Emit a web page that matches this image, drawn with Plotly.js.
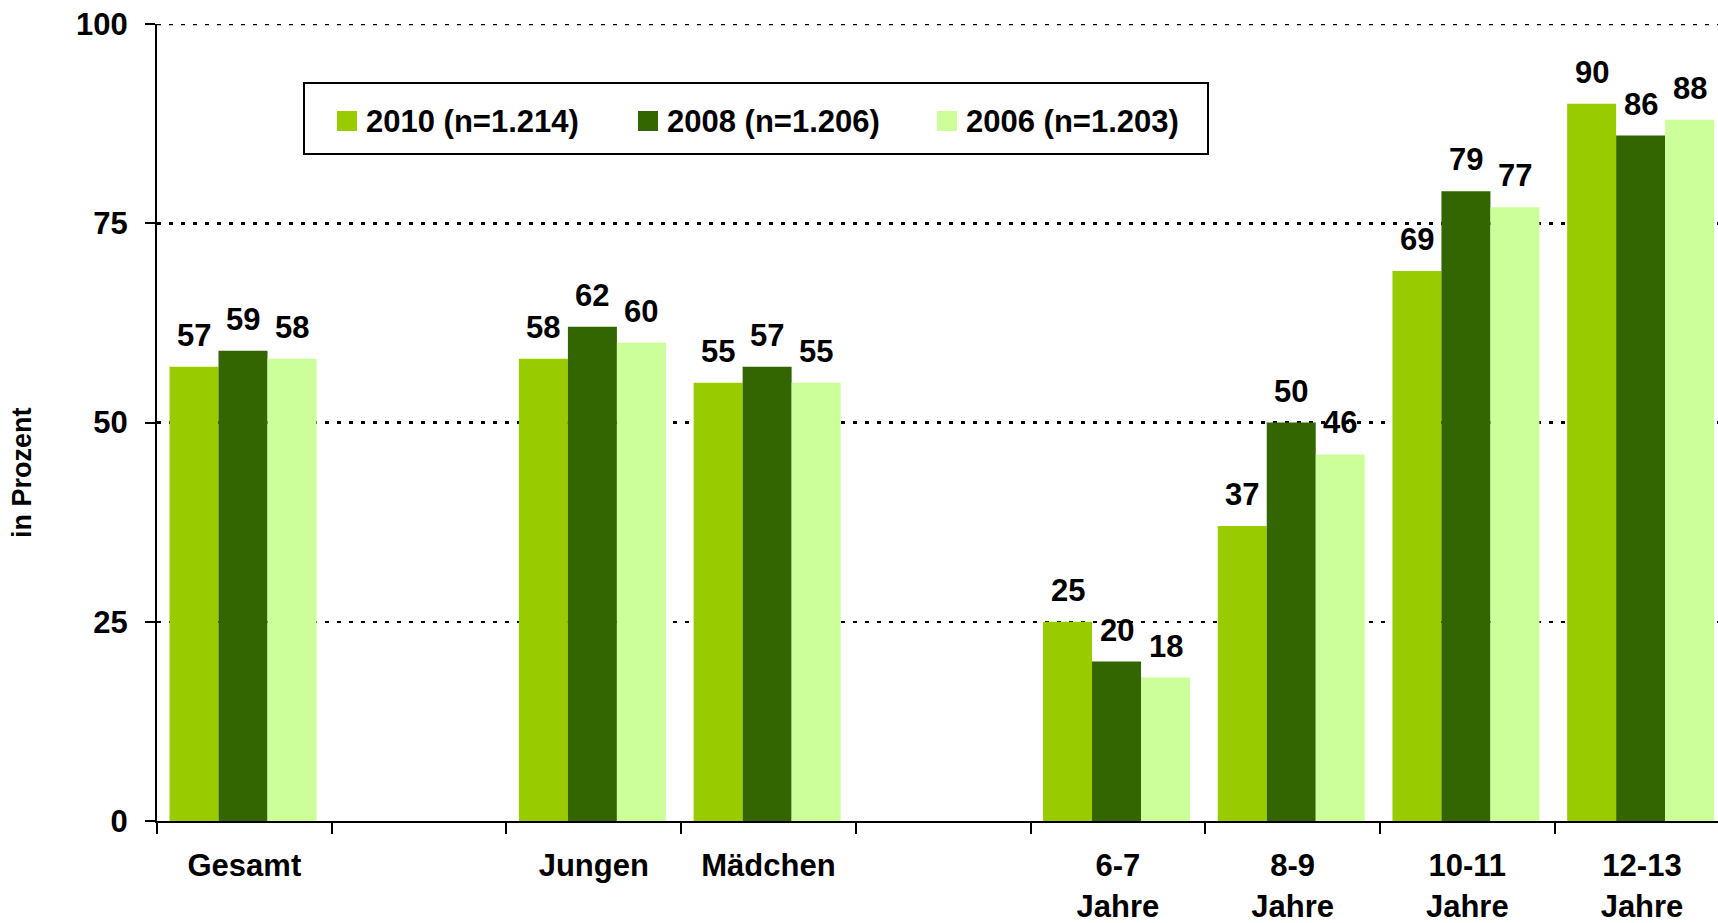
<!DOCTYPE html>
<html><head><meta charset="utf-8">
<script src="https://cdn.plot.ly/plotly-3.0.1.min.js"></script>
<style>html,body{margin:0;padding:0;background:#fff}#chart{width:1718px;height:923px}</style>
</head><body><div id="chart"></div>
<script>
// ---- data ----
const axisCategories = ['Gesamt', '\u200b', 'Jungen', 'Mädchen', '\u200b\u200b', '6-7<br>Jahre', '8-9<br>Jahre', '10-11<br>Jahre', '12-13<br>Jahre'];
const dataCategories = ['Gesamt', 'Jungen', 'Mädchen', '6-7<br>Jahre', '8-9<br>Jahre', '10-11<br>Jahre', '12-13<br>Jahre'];
const seriesNames = ['2010 (n=1.214)', '2008 (n=1.206)', '2006 (n=1.203)'];
const values2010 = [57, 58, 55, 25, 37, 69, 90];
const values2008 = [59, 62, 57, 20, 50, 79, 86];
const values2006 = [58, 60, 55, 18, 46, 77, 88];
const yTickValues = [0, 25, 50, 75, 100];
const yAxisTitle = 'in Prozent';

// ---- style ----
const seriesColors = ['#99CC00', '#336600', '#CCFF99'];
const FONT = 'Liberation Sans, Arial, sans-serif';
const FS = 31;
const W = 1718, H = 923;
const M = {l: 157, r: 0, t: 24, b: 102};
const plotW = W - M.l - M.r;
const plotH = H - M.t - M.b;
const xRange = [-0.5, 8.435];
const slotPx = plotW / (xRange[1] - xRange[0]);
const barW = 49 / slotPx;          // bar width in category units
const groupStart = -0.5 + 12.5 / slotPx;

const seriesValues = [values2010, values2008, values2006];

const traces = seriesValues.map((vals, i) => ({
  type: 'bar',
  name: seriesNames[i],
  x: dataCategories,
  y: vals,
  width: barW,
  offset: groupStart + i * barW,
  marker: {color: seriesColors[i], line: {width: 0}},
  hoverinfo: 'x+y+name'
}));

const annotations = [];
seriesValues.forEach((vals, i) => {
  const centerShift = (groupStart + (i + 0.5) * barW) * slotPx;
  vals.forEach((v, j) => {
    annotations.push({
      x: dataCategories[j], y: v, xref: 'x', yref: 'y',
      text: String(v), showarrow: false,
      xanchor: 'center', yanchor: 'bottom',
      xshift: centerShift, yshift: 12,
      font: {family: FONT, size: FS, color: '#000', weight: 'bold'}
    });
  });
});

// y axis title as annotation (placed lower than centre, as in the original)
const px2x = p => (p - M.l) / plotW;
const px2y = p => (H - M.b - p) / plotH;
annotations.push({
  xref: 'paper', yref: 'paper', x: px2x(22), y: px2y(473),
  xanchor: 'center', yanchor: 'middle', showarrow: false, textangle: -90,
  text: yAxisTitle, font: {family: FONT, size: 27, color: '#000', weight: 'bold'}
});

// custom legend (paper coords)
const shapes = [{
  type: 'rect', xref: 'paper', yref: 'paper',
  x0: px2x(304), x1: px2x(1208), y0: px2y(154), y1: px2y(83),
  line: {color: '#000', width: 2}, fillcolor: 'rgba(0,0,0,0)'
}, {
  // gridline at the top value (Plotly skips the grid line at the range end)
  type: 'line', xref: 'paper', yref: 'y', x0: 0, x1: 1, y0: 100, y1: 100,
  line: {color: '#000', width: 2.5, dash: '4px,8px'}, layer: 'below'
}];
const legendMarkerX = [337, 638, 937];
seriesNames.forEach((n, i) => {
  const x0 = legendMarkerX[i];
  shapes.push({
    type: 'rect', xref: 'paper', yref: 'paper',
    x0: px2x(x0), x1: px2x(x0 + 20), y0: px2y(131), y1: px2y(111),
    line: {width: 0}, fillcolor: seriesColors[i]
  });
  annotations.push({
    xref: 'paper', yref: 'paper', x: px2x(x0 + 27), y: px2y(121),
    xanchor: 'left', yanchor: 'middle', showarrow: false,
    text: n, font: {family: FONT, size: FS, color: '#000', weight: 'bold'}
  });
});

const layout = {
  width: W, height: H,
  margin: M,
  paper_bgcolor: '#fff', plot_bgcolor: '#fff',
  barmode: 'group', bargap: 0.16, bargroupgap: 0,
  showlegend: false,
  font: {family: FONT, size: FS, color: '#000', weight: 'bold'},
  xaxis: {
    type: 'category',
    categoryorder: 'array', categoryarray: axisCategories,
    range: xRange,
    showline: true, linecolor: '#000', linewidth: 2,
    ticks: 'outside', tickson: 'boundaries', ticklen: 11, tickwidth: 2, tickcolor: '#000',
    ticklabelstandoff: 16,
    showgrid: false, zeroline: false,
    tickfont: {family: FONT, size: FS, color: '#000', weight: 'bold'},
    fixedrange: true
  },
  yaxis: {
    range: [0, 100],
    tickvals: yTickValues,
    showline: true, linecolor: '#000', linewidth: 2,
    ticks: 'outside', ticklen: 10, tickwidth: 2, tickcolor: '#000',
    ticklabelstandoff: 11,
    showgrid: true, gridcolor: '#000', gridwidth: 2.5, griddash: '4px,8px',
    zeroline: false,
    tickfont: {family: FONT, size: FS, color: '#000', weight: 'bold'},
    fixedrange: true
  },
  shapes: shapes,
  annotations: annotations
};

Plotly.newPlot('chart', traces, layout, {displayModeBar: false, staticPlot: true});
</script>
</body></html>
